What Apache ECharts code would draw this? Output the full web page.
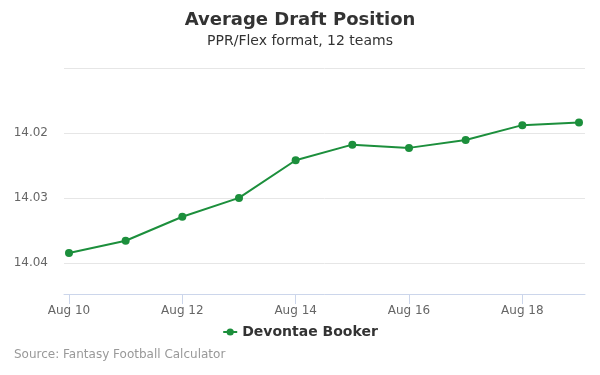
<!DOCTYPE html>
<html><head><meta charset="utf-8">
<script src="https://cdn.jsdelivr.net/npm/echarts@6/dist/echarts.min.js"></script>
<style>html,body{margin:0;padding:0;background:#fff}#c{width:600px;height:375px}</style>
</head><body><div id="c"></div>
<script>
var dates = ['Aug 10','Aug 11','Aug 12','Aug 13','Aug 14','Aug 15','Aug 16','Aug 17','Aug 18','Aug 19'];
var adp = [14.0385, 14.0366, 14.0329, 14.0300, 14.0242, 14.0218, 14.0223, 14.0211, 14.0188, 14.0184];
var xLabelIdx = [0, 2, 4, 6, 8];
var yTickLabels = ['14.02', '14.03', '14.04'];
var seriesName = 'Devontae Booker';
var color = '#1c8f3c';
var font = 'DejaVu Sans';

var chart = echarts.init(document.getElementById('c'), null, {renderer: 'canvas'});
chart.setOption({
  animation: false,
  textStyle: {fontFamily: font},
  title: {
    text: 'Average Draft Position',
    subtext: 'PPR/Flex format, 12 teams',
    left: 'center', top: 6, itemGap: 5,
    textStyle: {fontFamily: font, fontSize: 18, fontWeight: 'bold', color: '#333'},
    subtextStyle: {fontFamily: font, fontSize: 14, color: '#333'}
  },
  graphic: [{
    type: 'text', left: 14, top: 349,
    style: {text: 'Source: Fantasy Football Calculator', fontFamily: font, fontSize: 12, fill: '#999'}
  }],
  legend: {
    top: 320, left: 'center',
    itemWidth: 14, itemHeight: 9, itemGap: 10,
    textStyle: {fontFamily: font, fontSize: 14, fontWeight: 'bold', color: '#333'},
    data: [seriesName]
  },
  grid: {left: 64, right: 15, top: 68, bottom: 81},
  xAxis: {
    type: 'value',
    min: -0.088, max: 9.106,
    splitLine: {show: false},
    axisLine: {show: true, lineStyle: {color: '#ccd6eb'}},
    axisTick: {show: true, length: 10, customValues: xLabelIdx, lineStyle: {color: '#ccd6eb'}},
    axisLabel: {
      customValues: xLabelIdx, color: '#666', fontSize: 12, margin: 11,
      formatter: function (v) { return dates[Math.round(v)]; }
    }
  },
  yAxis: {
    type: 'value', inverse: true,
    min: 14.01, max: 14.0448, interval: 0.01,
    axisLine: {show: false}, axisTick: {show: false},
    splitLine: {lineStyle: {color: '#e6e6e6'}},
    axisLabel: {
      color: '#666', fontSize: 12, margin: 16,
      formatter: function (v) {
        var s = v.toFixed(2);
        return (yTickLabels.indexOf(s) >= 0 && Math.abs(v - parseFloat(s)) < 1e-6) ? s : '';
      }
    }
  },
  series: [{
    name: seriesName, type: 'line',
    data: adp.map(function (v, i) { return [i, v]; }),
    color: color,
    lineStyle: {width: 2, color: color},
    symbol: 'circle', symbolSize: 8,
    itemStyle: {color: color}
  }]
});
</script></body></html>
